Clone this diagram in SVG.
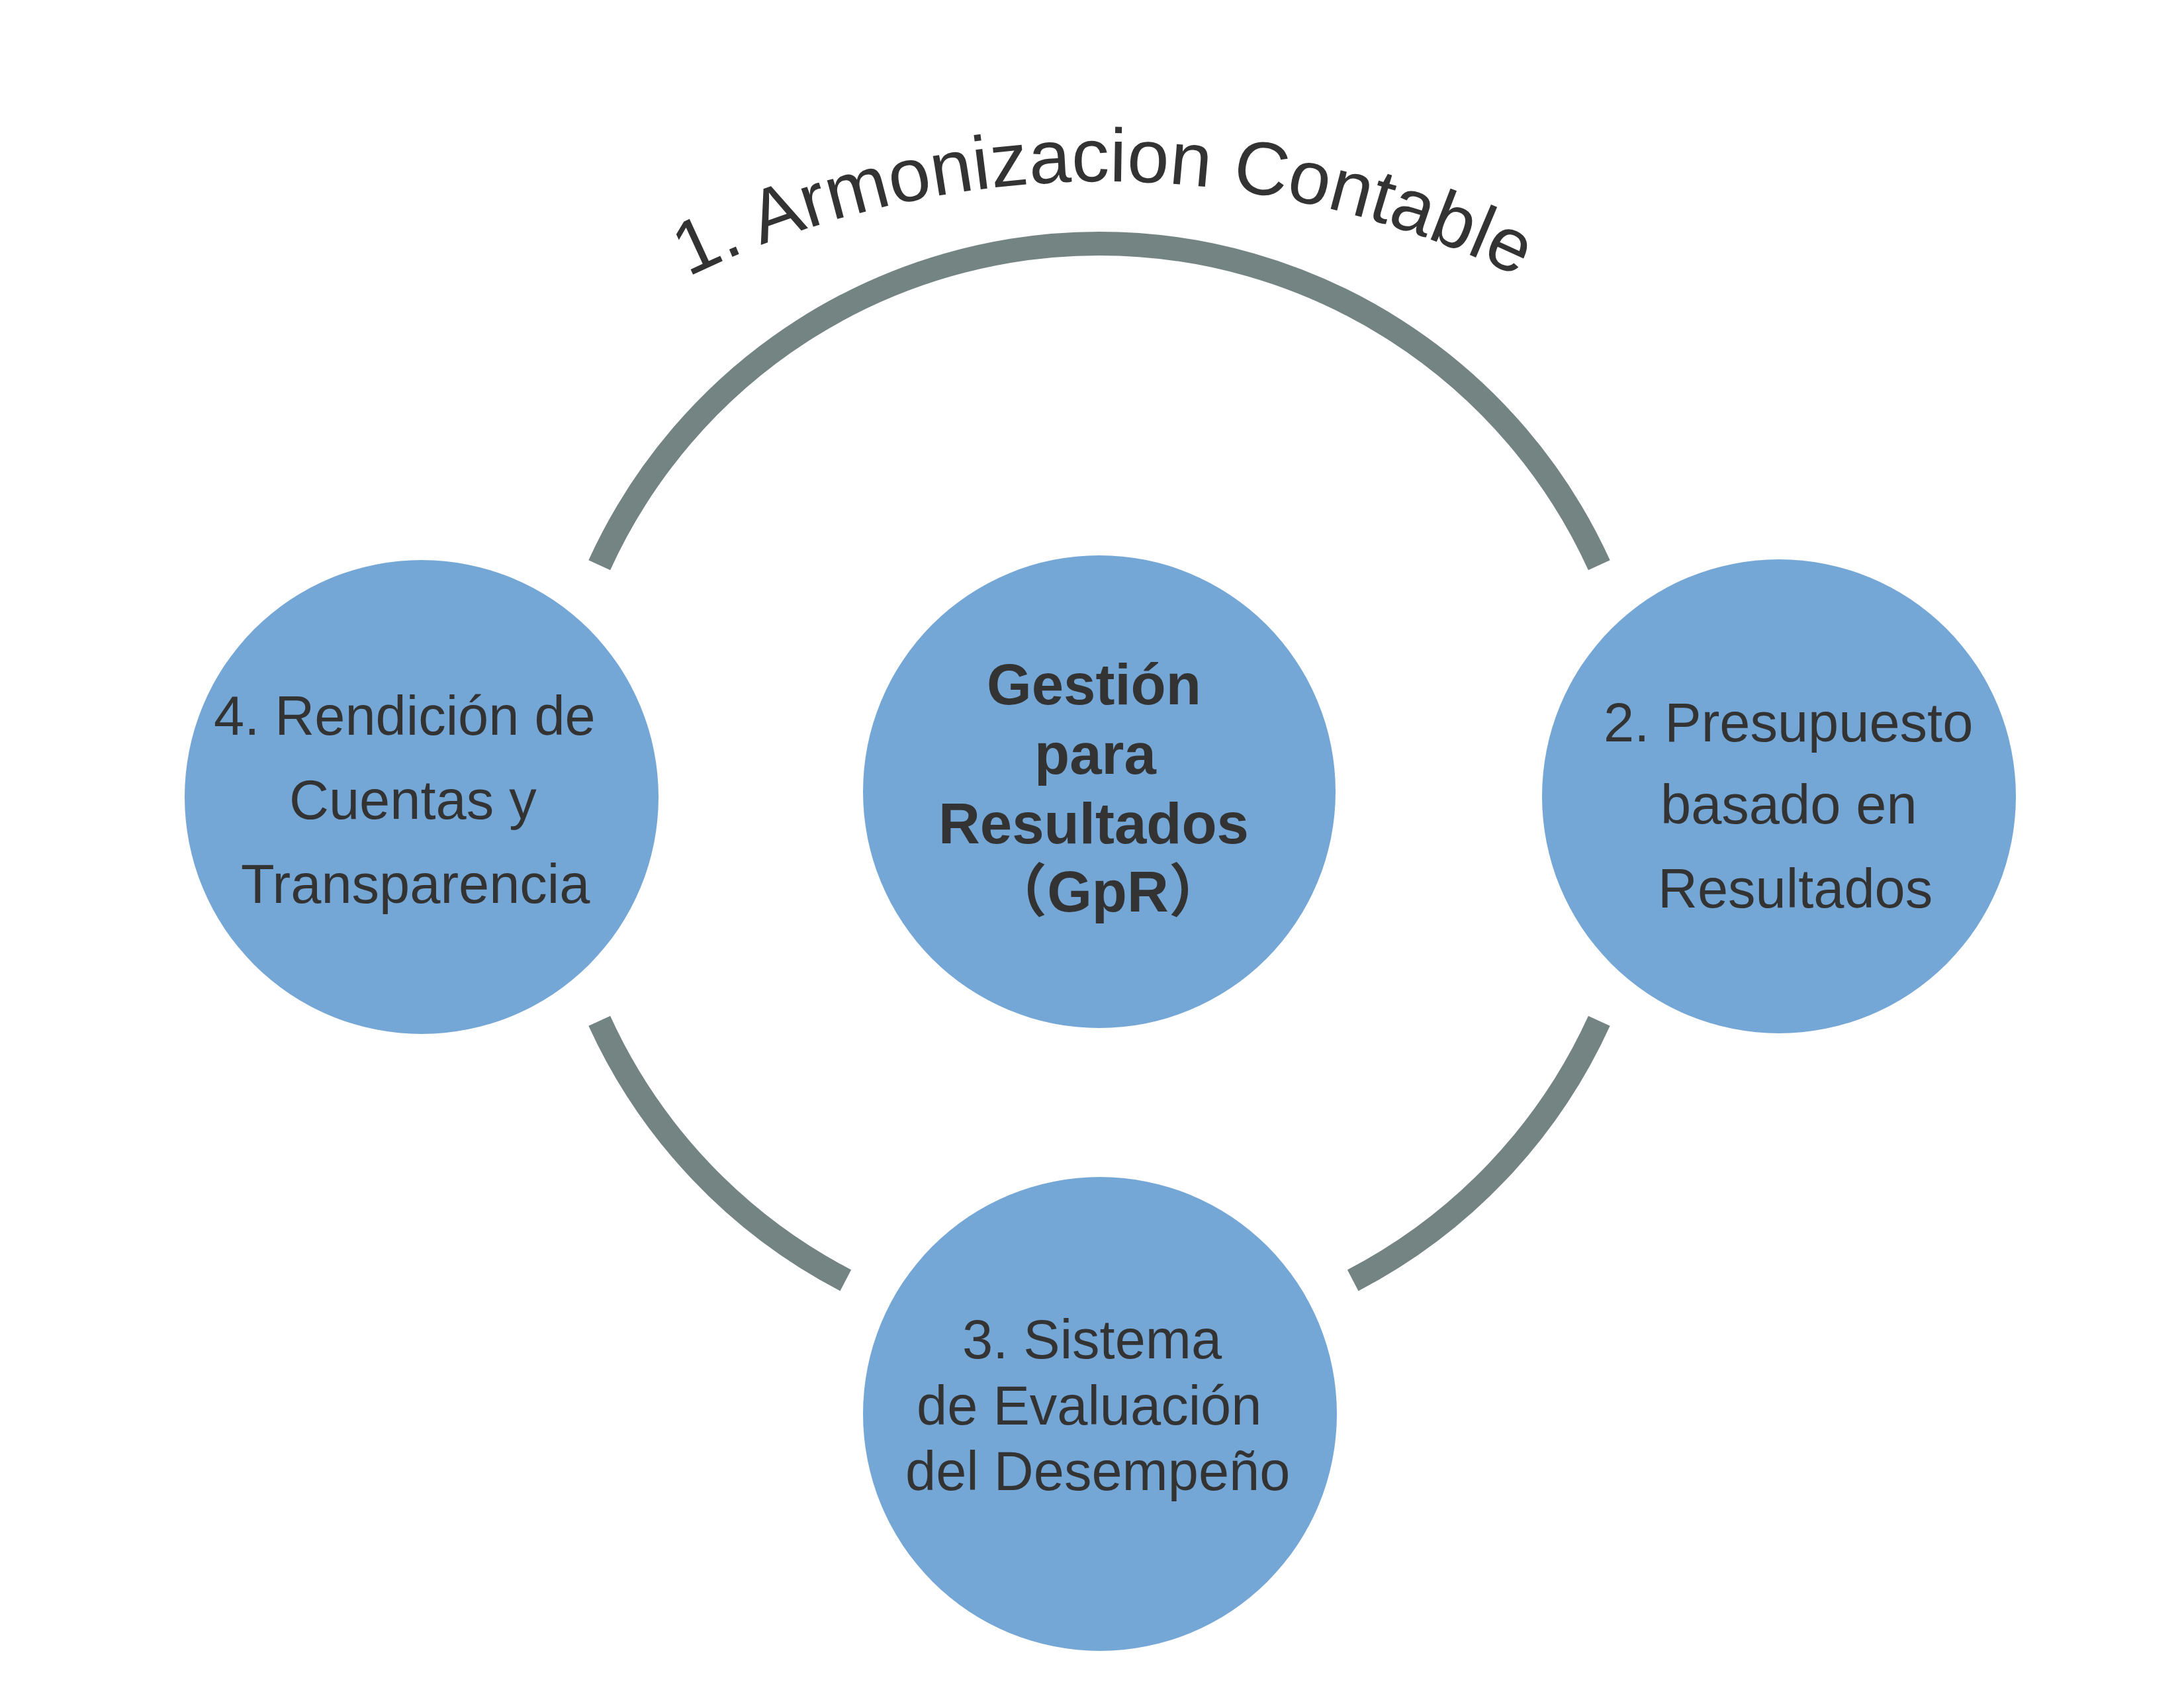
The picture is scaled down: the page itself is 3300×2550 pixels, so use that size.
<svg xmlns="http://www.w3.org/2000/svg" width="3300" height="2550" viewBox="0 0 3300 2550">
<style>
.node{fill:#75A7D6}
.t{font-family:"Liberation Sans",Arial,sans-serif;font-size:83px;fill:#333333}
.b{font-family:"Liberation Sans",Arial,"Noto Sans CJK SC",sans-serif;font-size:87px;font-weight:bold;fill:#333333}
.ring{fill:none;stroke:#738482;stroke-width:36;stroke-linecap:butt}
.arc{font-family:"Liberation Sans",Arial,sans-serif;font-size:114px;fill:#333333}
</style>
<defs>
<path id="labelArc" d="M 317.6 1218.9 A 1436 1436 0 0 1 3016.4 1218.9"/>
</defs>
<rect width="3300" height="2550" fill="#FFFFFF"/>
<g id="connectors">
<path class="ring" d="M 905.7 853.8 A 830 830 0 0 1 2416.3 853.8"/>
<path class="ring" d="M 2416.3 1542.2 A 830 830 0 0 1 2044.2 1934.2"/>
<path class="ring" d="M 1277.8 1934.2 A 830 830 0 0 1 905.7 1542.2"/>
</g>
<g id="label-armonizacion">
<text class="arc"><textPath href="#labelArc" startOffset="50%" text-anchor="middle">1. Armonizacion Contable</textPath></text>
</g>
<g id="node-gpr">
<circle class="node" cx="1661" cy="1196" r="357"/>
<text class="b" x="1491" y="1064">Gestión</text>
<text class="b" x="1563" y="1169">para</text>
<text class="b" x="1418" y="1274">Resultados</text>
<text class="b" x="1674" y="1377" text-anchor="middle">（GpR）</text>
</g>
<g id="node-rendicion">
<circle class="node" cx="637" cy="1204" r="358"/>
<text class="t" x="323" y="1110">4. Rendición de</text>
<text class="t" x="437" y="1237">Cuentas y</text>
<text class="t" x="364" y="1364">Transparencia</text>
</g>
<g id="node-presupuesto">
<circle class="node" cx="2688" cy="1203" r="358"/>
<text class="t" x="2423" y="1120">2. Presupuesto</text>
<text class="t" x="2509" y="1244">basado en</text>
<text class="t" x="2505" y="1371">Resultados</text>
</g>
<g id="node-sed">
<circle class="node" cx="1662" cy="2136" r="358"/>
<text class="t" x="1454" y="2052">3. Sistema</text>
<text class="t" x="1385" y="2152">de Evaluación</text>
<text class="t" x="1368" y="2251">del Desempeño</text>
</g>
</svg>
